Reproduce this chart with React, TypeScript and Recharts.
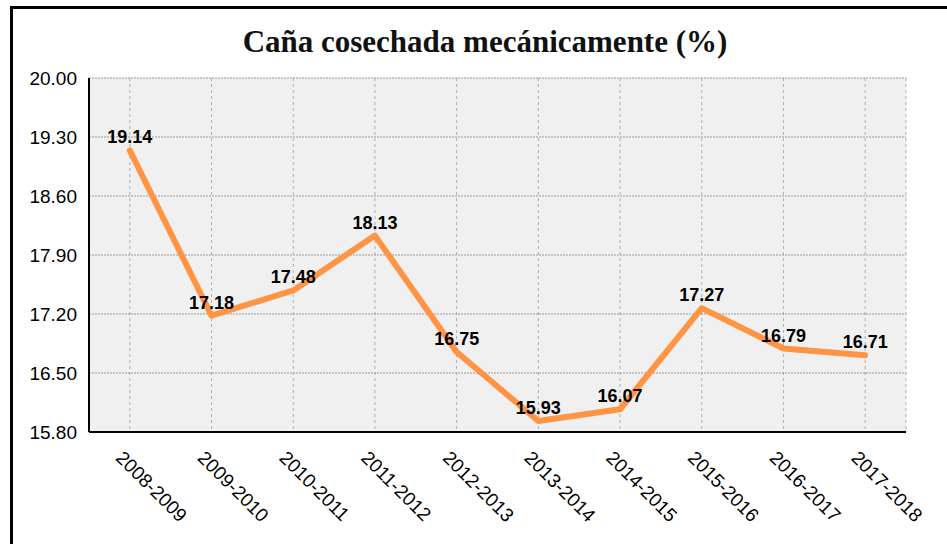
import { CartesianGrid, LabelList, Line, LineChart, XAxis, YAxis } from "recharts"

const seasons = [
  "2008-2009",
  "2009-2010",
  "2010-2011",
  "2011-2012",
  "2012-2013",
  "2013-2014",
  "2014-2015",
  "2015-2016",
  "2016-2017",
  "2017-2018",
]
const harvestPct = [19.14, 17.18, 17.48, 18.13, 16.75, 15.93, 16.07, 17.27, 16.79, 16.71]
const yTicks = [15.8, 16.5, 17.2, 17.9, 18.6, 19.3, 20.0]
// tick marks sit between seasons, not on them
const seasonEdges = [1, 2, 3, 4, 5, 6, 7, 8, 9]

const data = seasons.map((season, i) => ({ season, value: harvestPct[i] }))

const SANS = '"Liberation Sans", Arial, Helvetica, sans-serif'

function SeasonTick({ x, y, payload }: any) {
  const ax = x - 15
  const ay = y + 27
  return (
    <text
      x={ax}
      y={ay}
      transform={`rotate(45 ${ax} ${ay})`}
      textAnchor="start"
      fontSize={19}
      fontFamily={SANS}
      fill="#000"
    >
      {payload.value}
    </text>
  )
}

export default function App() {
  return (
    <div
      style={{
        position: "absolute",
        left: 0,
        top: 0,
        width: 947,
        height: 544,
        overflow: "hidden",
        background: "#fff",
      }}
    >
      <div
        style={{
          position: "absolute",
          left: 10,
          top: 6,
          width: 1000,
          height: 600,
          border: "3px solid #000",
          boxSizing: "border-box",
        }}
      />
      <div
        style={{
          position: "absolute",
          left: 0,
          top: 25,
          width: 970,
          textAlign: "center",
          fontFamily: '"Liberation Serif", "Times New Roman", serif',
          fontWeight: "bold",
          fontSize: 31,
          lineHeight: "34px",
          color: "#111",
        }}
      >
        Caña cosechada mecánicamente (%)
      </div>
      <div style={{ position: "absolute", left: 0, top: 0 }}>
        <LineChart width={947} height={544} data={data} margin={{ top: 78, right: 41, bottom: 0, left: 0 }}>
          <CartesianGrid horizontal={false} stroke="#b0b0b0" strokeDasharray="3 3" fill="#f0f0f0" />
          <CartesianGrid vertical={false} stroke="#999" strokeDasharray="2 1" />
          <XAxis
            dataKey="season"
            scale="band"
            height={112}
            tickLine={false}
            tickSize={0}
            tickMargin={0}
            interval={0}
            tick={<SeasonTick />}
            axisLine={{ stroke: "#000", strokeWidth: 2 }}
          />
          <XAxis
            xAxisId="edges"
            type="number"
            domain={[0, 10]}
            allowDataOverflow
            ticks={seasonEdges}
            mirror
            tick={false}
            tickSize={4}
            tickLine={{ stroke: "#000", strokeWidth: 1.5 }}
            axisLine={false}
          />
          <YAxis
            domain={[15.8, 20]}
            ticks={yTicks}
            width={89}
            tickLine={false}
            tickSize={0}
            tickMargin={12}
            tickFormatter={(v: number) => v.toFixed(2)}
            tick={{ fill: "#000", fontSize: 19, fontFamily: SANS }}
            axisLine={{ stroke: "#000", strokeWidth: 2 }}
          />
          <YAxis
            yAxisId="frame"
            orientation="right"
            domain={[0, 1]}
            width={0}
            tick={false}
            tickLine={false}
            axisLine={{ stroke: "#444", strokeWidth: 2 }}
          />
          <Line
            dataKey="value"
            stroke="#ff9544"
            strokeWidth={6}
            strokeLinecap="round"
            strokeLinejoin="round"
            dot={false}
            isAnimationActive={false}
          >
            <LabelList
              dataKey="value"
              position="top"
              offset={7}
              formatter={(v: any) => Number(v).toFixed(2)}
              fill="#000"
              fontSize={18}
              fontWeight="bold"
              fontFamily={SANS}
            />
          </Line>
        </LineChart>
      </div>
    </div>
  )
}
